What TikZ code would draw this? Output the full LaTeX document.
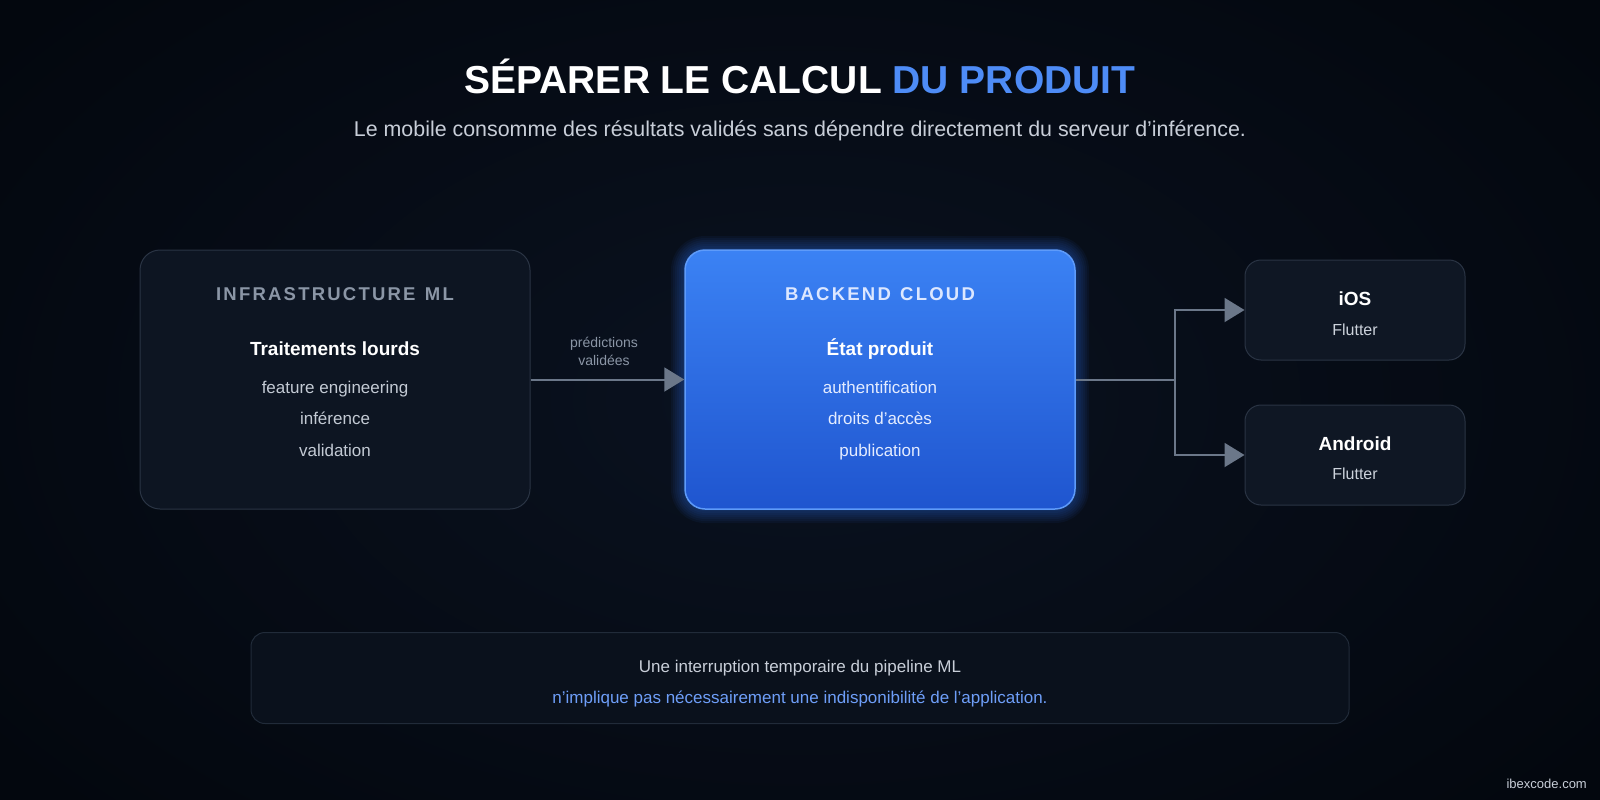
\documentclass[tikz,border=0pt]{standalone}
\usepackage{fontspec}
\setmainfont{Liberation Sans}
\newfontfamily\tracked[LetterSpace=12]{Liberation Sans}
\usetikzlibrary{arrows.meta,shapes.misc}
\definecolor{bgin}{HTML}{0A1220}
\definecolor{bgout}{HTML}{03070E}
\definecolor{cardfill}{HTML}{0D1522}
\definecolor{cardline}{HTML}{2A3444}
\definecolor{smallfill}{HTML}{0F1724}
\definecolor{notefill}{HTML}{0A111C}
\definecolor{noteline}{HTML}{212B39}
\definecolor{bluetop}{HTML}{3B82F4}
\definecolor{bluebot}{HTML}{1F55CF}
\definecolor{blueline}{HTML}{5E9BFA}
\definecolor{glow}{HTML}{2F6FE8}
\definecolor{accent}{HTML}{4E8CF6}
\definecolor{notebl}{HTML}{6E9EF8}
\definecolor{headgrey}{HTML}{8B96A6}
\definecolor{itemgrey}{HTML}{C3CAD4}
\definecolor{subgrey}{HTML}{C8CED8}
\definecolor{arrowc}{HTML}{6B7789}
\definecolor{bluehead}{HTML}{DCE7FF}
\definecolor{blueitem}{HTML}{E4ECFF}
\tikzset{
  card/.style={draw=cardline, line width=1pt, fill=cardfill, rounded corners=20pt, inner sep=0pt},
  smallcard/.style={draw=cardline, line width=1pt, fill=smallfill, rounded corners=16pt, inner sep=0pt},
  bluecard/.style={draw=blueline, line width=1.5pt, top color=bluetop, bottom color=bluebot, rounded corners=20pt, inner sep=0pt},
  notecard/.style={draw=noteline, line width=1pt, fill=notefill, rounded corners=14pt, inner sep=0pt},
  txt/.style={inner sep=0pt, anchor=base},
  head/.style={txt, font=\tracked\bfseries\fontsize{18.5}{22}\selectfont, text=headgrey},
  ttl/.style={txt, font=\bfseries\fontsize{19}{22}\selectfont, text=white},
  item/.style={txt, font=\fontsize{17}{20}\selectfont, text=itemgrey},
  arr/.style={draw=arrowc, line width=2pt, -{Triangle[length=20pt,width=24pt]}},
  conn/.style={draw=arrowc, line width=2pt}
}
\begin{document}
\begin{tikzpicture}[x=1pt,y=-1pt]
\useasboundingbox (0,0) rectangle (1600,800);
\shade[inner color=bgin, outer color=bgout] (-200,-200) rectangle (1800,1000);

% title
\node[txt, font=\bfseries\fontsize{39}{44}\selectfont] (title) at (800,93)
  {\textcolor{white}{SÉPARER LE CALCUL} \textcolor{accent}{DU PRODUIT}};
\node[txt, font=\fontsize{21.4}{25}\selectfont, text=subgrey] (subtitle) at (800,136)
  {Le mobile consomme des résultats validés sans dépendre directement du serveur d’inférence.};

% glow behind backend
\foreach \g in {14,12,...,2}{
  \fill[glow, opacity=0.06, rounded corners=20pt+\g pt] (685-\g,250-\g) rectangle (1075+\g,509+\g);
}

% boxes
\node[card, minimum width=390pt, minimum height=259pt] (infra) at (335,379.5) {};
\node[bluecard, minimum width=390pt, minimum height=259pt] (backend) at (880,379.5) {};
\node[smallcard, minimum width=220pt, minimum height=100pt] (ios) at (1355,310) {};
\node[smallcard, minimum width=220pt, minimum height=100pt] (android) at (1355,455) {};
\node[notecard, minimum width=1098pt, minimum height=91pt] (note) at (800,678) {};

% infra texts
\node[head] (infrah) at (335,300.5) {INFRASTRUCTURE\hspace{2pt} ML};
\node[ttl] (infrat) at (335,355) {Traitements lourds};
\node[item] (infra1) at (335,393) {feature engineering};
\node[item] (infra2) at (335,424.5) {inférence};
\node[item] (infra3) at (335,456) {validation};

% backend texts
\node[head, text=bluehead] (backh) at (880,300.5) {BACKEND\hspace{2pt} CLOUD};
\node[ttl] (backt) at (880,355) {État produit};
\node[item, text=blueitem] (back1) at (880,393) {authentification};
\node[item, text=blueitem] (back2) at (880,424.5) {droits d’accès};
\node[item, text=blueitem] (back3) at (880,456) {publication};

% mobile texts
\node[ttl] (iost) at (1355,305) {iOS};
\node[item, font=\fontsize{16}{19}\selectfont, text=itemgrey!85] (iosf) at (1355,335) {Flutter};
\node[ttl] (andt) at (1355,450) {Android};
\node[item, font=\fontsize{16}{19}\selectfont, text=itemgrey!85] (andf) at (1355,479.5) {Flutter};

% connectors
\draw[arr] (infra.east) -- (backend.west);
\node[txt, font=\fontsize{14}{16}\selectfont, text=headgrey] (lab1) at (604,347) {prédictions};
\node[txt, font=\fontsize{14}{16}\selectfont, text=headgrey] (lab2) at (604,365) {validées};
\coordinate (branch) at (1175,379.5);
\draw[conn] (backend.east) -- (branch);
\draw[arr] (branch) |- (ios.west);
\draw[arr] (branch) |- (android.west);

% note texts
\node[txt, font=\fontsize{17}{20}\selectfont, text=subgrey] (note1) at (800,672) {Une interruption temporaire du pipeline ML};
\node[txt, font=\fontsize{17}{20}\selectfont, text=notebl] (note2) at (800,703) {n’implique pas nécessairement une indisponibilité de l’application.};

% watermark
\node[txt, anchor=base east, font=\fontsize{13}{15}\selectfont, text=subgrey] (wm) at (1587,788) {ibexcode.com};
\end{tikzpicture}
\end{document}
